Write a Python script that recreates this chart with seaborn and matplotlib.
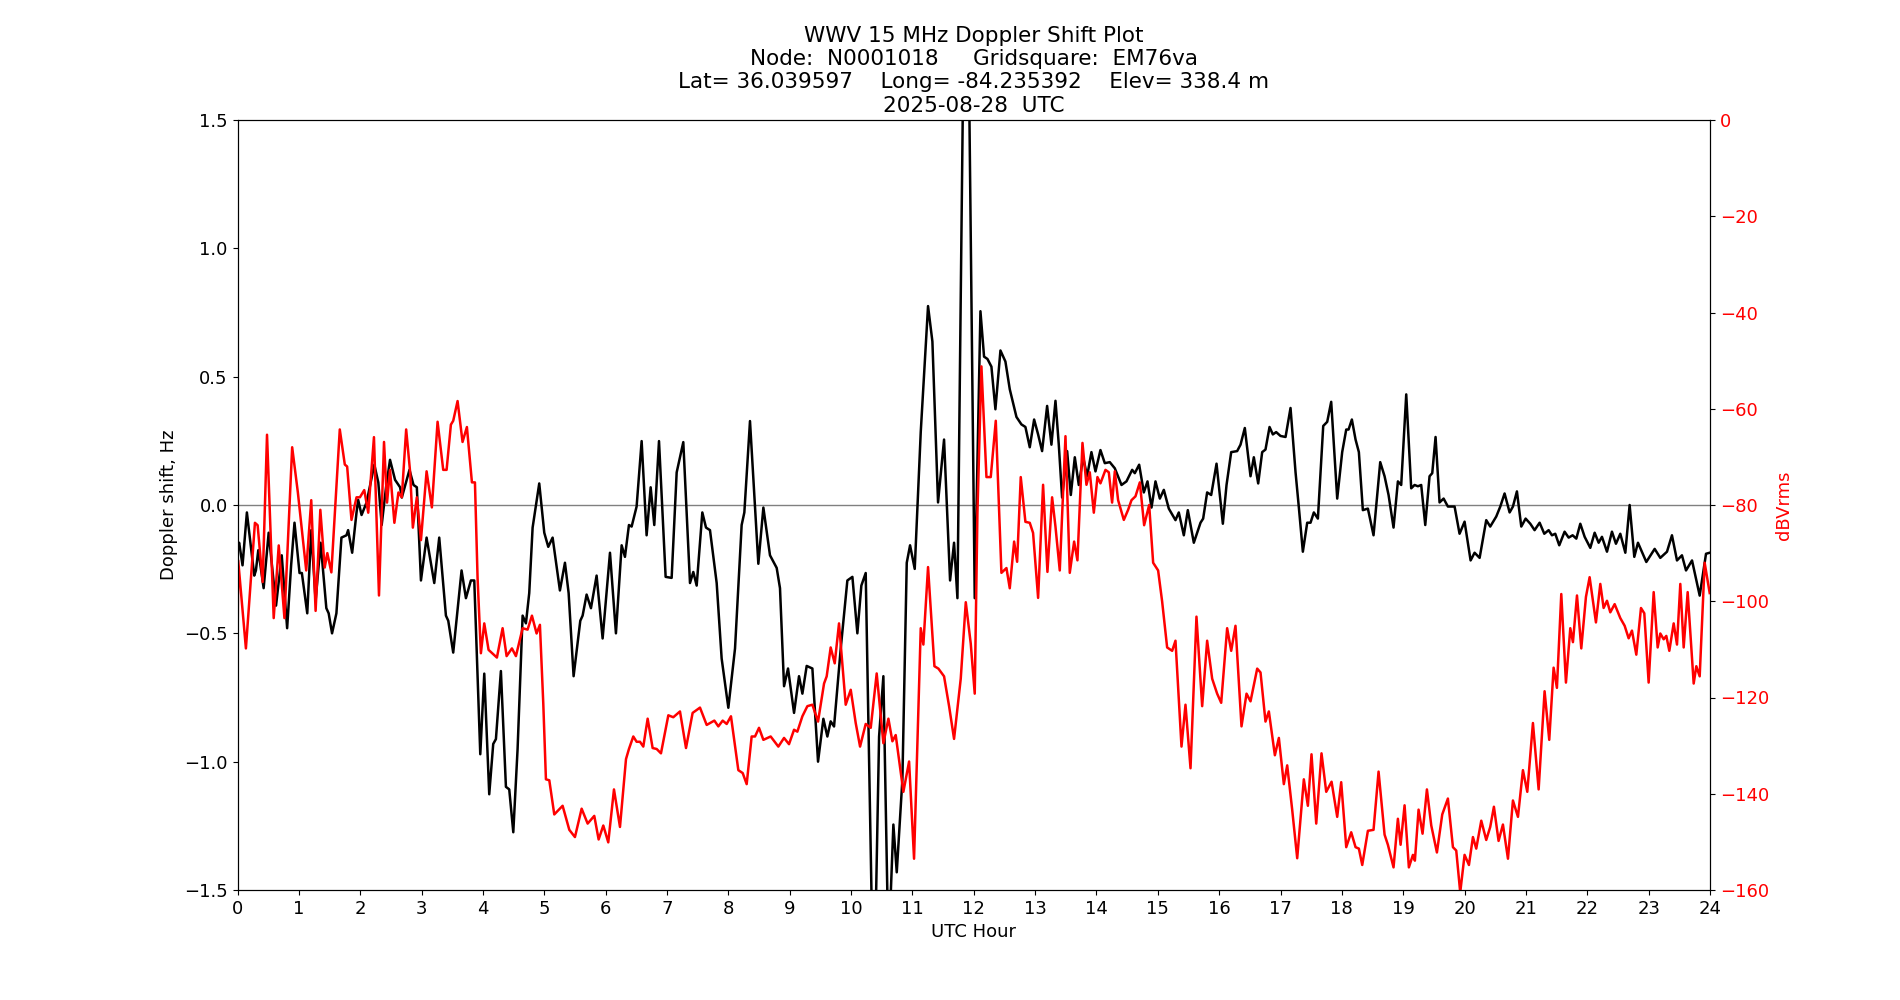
import numpy as np
import matplotlib
matplotlib.use("Agg")
import matplotlib.pyplot as plt
import seaborn as sns

# Doppler shift (Hz) vs UTC hour
dop_hours = [0.0, 0.027, 0.082, 0.153, 0.273, 0.30, 0.339, 0.426, 0.508, 0.628, 0.721, 0.809, 0.874, 0.929,
             1.011, 1.049, 1.137, 1.202, 1.273, 1.355, 1.448, 1.486, 1.541, 1.612, 1.694, 1.776, 1.803, 1.869,
             1.940, 1.967, 2.022, 2.104, 2.230, 2.295, 2.350, 2.421, 2.486, 2.568, 2.650, 2.678, 2.803, 2.869,
             2.923, 2.99, 3.082, 3.207, 3.288, 3.397, 3.435, 3.516, 3.652, 3.723, 3.804, 3.859, 3.957, 4.022,
             4.103, 4.168, 4.212, 4.293, 4.375, 4.429, 4.495, 4.565, 4.647, 4.701, 4.755, 4.810, 4.918, 5.0,
             5.065, 5.136, 5.255, 5.337, 5.397, 5.478, 5.587, 5.625, 5.690, 5.761, 5.853, 5.951, 6.071, 6.168,
             6.261, 6.315, 6.380, 6.424, 6.505, 6.587, 6.668, 6.734, 6.793, 6.870, 6.978, 7.076, 7.158, 7.266,
             7.375, 7.429, 7.484, 7.576, 7.636, 7.701, 7.810, 7.891, 8.0, 8.109, 8.217, 8.261, 8.353, 8.489,
             8.571, 8.679, 8.788, 8.842, 8.908, 8.973, 9.071, 9.152, 9.207, 9.277, 9.370, 9.462, 9.549, 9.614,
             9.668, 9.723, 9.832, 9.940, 10.022, 10.103, 10.168, 10.239, 10.37, 10.457, 10.527, 10.61, 10.690,
             10.745, 10.837, 10.908, 10.962, 11.038, 11.136, 11.255, 11.326, 11.418, 11.516, 11.614, 11.679,
             11.734, 11.875, 12.016, 12.109, 12.168, 12.223, 12.288, 12.353, 12.435, 12.516, 12.587, 12.696,
             12.777, 12.842, 12.913, 12.984, 13.049, 13.114, 13.196, 13.266, 13.332, 13.386, 13.440, 13.522,
             13.582, 13.647, 13.712, 13.783, 13.848, 13.918, 13.984, 14.065, 14.136, 14.217, 14.299, 14.408,
             14.489, 14.582, 14.625, 14.696, 14.772, 14.832, 14.897, 14.962, 15.033, 15.098, 15.179, 15.288,
             15.342, 15.424, 15.489, 15.587, 15.696, 15.739, 15.804, 15.870, 15.957, 16.060, 16.120, 16.196,
             16.293, 16.348, 16.418, 16.511, 16.565, 16.636, 16.701, 16.755, 16.821, 16.875, 16.929, 17.0,
             17.082, 17.163, 17.245, 17.299, 17.364, 17.435, 17.489, 17.543, 17.609, 17.696, 17.761, 17.826,
             17.924, 18.005, 18.071, 18.109, 18.163, 18.223, 18.277, 18.342, 18.424, 18.516, 18.625, 18.696,
             18.761, 18.842, 18.913, 18.967, 19.049, 19.130, 19.185, 19.239, 19.293, 19.359, 19.429, 19.473,
             19.527, 19.592, 19.658, 19.728, 19.837, 19.918, 20.0, 20.098, 20.163, 20.245, 20.353, 20.418,
             20.516, 20.582, 20.652, 20.734, 20.788, 20.853, 20.924, 20.995, 21.071, 21.141, 21.223, 21.299,
             21.370, 21.424, 21.478, 21.543, 21.630, 21.696, 21.761, 21.821, 21.886, 21.957, 22.049, 22.120,
             22.185, 22.239, 22.321, 22.402, 22.467, 22.538, 22.620, 22.690, 22.766, 22.826, 22.962, 23.098,
             23.190, 23.299, 23.380, 23.462, 23.543, 23.609, 23.707, 23.832, 23.935, 23.995]
dop_hz = [-0.16, -0.147, -0.235, -0.029, -0.275, -0.255, -0.176, -0.324, -0.108, -0.392, -0.196, -0.480, -0.235, -0.069,
          -0.265, -0.265, -0.422, -0.098, -0.373, -0.147, -0.402, -0.422, -0.50, -0.422, -0.127, -0.118, -0.098, -0.186,
          -0.029, 0.020, -0.039, 0.010, 0.157, 0.088, -0.078, 0.069, 0.176, 0.098, 0.069, 0.029, 0.137, 0.078,
          0.069, -0.294, -0.127, -0.304, -0.127, -0.431, -0.451, -0.575, -0.255, -0.363, -0.294, -0.294, -0.971, -0.657,
          -1.127, -0.931, -0.912, -0.647, -1.098, -1.108, -1.275, -0.951, -0.431, -0.461, -0.343, -0.088, 0.084, -0.108,
          -0.163, -0.127, -0.333, -0.225, -0.343, -0.667, -0.451, -0.431, -0.349, -0.402, -0.275, -0.520, -0.186, -0.50,
          -0.157, -0.202, -0.078, -0.084, -0.006, 0.249, -0.118, 0.069, -0.078, 0.249, -0.280, -0.284, 0.127, 0.245,
          -0.304, -0.261, -0.314, -0.029, -0.088, -0.098, -0.304, -0.598, -0.790, -0.559, -0.078, -0.029, 0.327, -0.229,
          -0.010, -0.196, -0.245, -0.324, -0.706, -0.637, -0.810, -0.667, -0.735, -0.627, -0.637, -1.0, -0.833, -0.902,
          -0.843, -0.863, -0.559, -0.294, -0.280, -0.50, -0.314, -0.265, -2.0, -0.902, -0.667, -1.75, -1.245,
          -1.431, -1.069, -0.225, -0.157, -0.249, 0.284, 0.775, 0.637, 0.010, 0.255, -0.294, -0.147,
          -0.363, 2.7, -0.363, 0.755, 0.578, 0.569, 0.539, 0.373, 0.602, 0.559, 0.451, 0.343,
          0.314, 0.304, 0.225, 0.333, 0.275, 0.210, 0.386, 0.235, 0.406, 0.235, 0.029, 0.210,
          0.039, 0.186, 0.078, 0.186, 0.112, 0.206, 0.131, 0.214, 0.163, 0.167, 0.143, 0.078,
          0.092, 0.137, 0.124, 0.157, 0.049, 0.092, -0.010, 0.092, 0.025, 0.059, -0.014, -0.059,
          -0.029, -0.118, -0.020, -0.147, -0.069, -0.053, 0.049, 0.039, 0.161, -0.073, 0.078, 0.206,
          0.210, 0.235, 0.300, 0.112, 0.186, 0.084, 0.206, 0.216, 0.304, 0.275, 0.284, 0.269,
          0.265, 0.378, 0.127, -0.010, -0.182, -0.069, -0.069, -0.029, -0.053, 0.308, 0.324, 0.402,
          0.025, 0.206, 0.294, 0.294, 0.333, 0.255, 0.206, -0.020, -0.014, -0.118, 0.167, 0.112,
          0.039, -0.088, 0.092, 0.078, 0.431, 0.065, 0.078, 0.073, 0.078, -0.078, 0.112, 0.124,
          0.265, 0.010, 0.025, -0.006, -0.006, -0.112, -0.065, -0.216, -0.186, -0.206, -0.059, -0.084,
          -0.045, -0.006, 0.045, -0.029, -0.006, 0.053, -0.084, -0.053, -0.073, -0.098, -0.069, -0.112,
          -0.098, -0.118, -0.112, -0.157, -0.104, -0.127, -0.118, -0.131, -0.073, -0.124, -0.167, -0.108,
          -0.147, -0.124, -0.182, -0.104, -0.151, -0.112, -0.186, 0.0, -0.202, -0.147, -0.222, -0.171,
          -0.206, -0.182, -0.118, -0.216, -0.196, -0.255, -0.216, -0.353, -0.190, -0.186]

# Received signal level (dBVrms) vs UTC hour
sig_hours = [0.0, 0.011, 0.137, 0.284, 0.328, 0.410, 0.481, 0.590, 0.672, 0.765, 0.891, 0.984, 1.120, 1.202,
             1.273, 1.350, 1.421, 1.464, 1.530, 1.667, 1.749, 1.787, 1.858, 1.940, 1.995, 2.066, 2.131, 2.224,
             2.306, 2.388, 2.437, 2.486, 2.557, 2.623, 2.678, 2.749, 2.814, 2.858, 2.923, 2.99, 3.082, 3.168,
             3.261, 3.353, 3.408, 3.478, 3.516, 3.587, 3.668, 3.739, 3.821, 3.870, 3.913, 3.967, 4.022, 4.092,
             4.228, 4.321, 4.386, 4.473, 4.538, 4.647, 4.728, 4.799, 4.875, 4.929, 4.984, 5.027, 5.082, 5.163,
             5.299, 5.408, 5.5, 5.609, 5.707, 5.815, 5.886, 5.962, 6.043, 6.136, 6.234, 6.332, 6.380, 6.451,
             6.505, 6.560, 6.614, 6.685, 6.766, 6.832, 6.902, 7.022, 7.103, 7.212, 7.310, 7.418, 7.538, 7.647,
             7.772, 7.837, 7.908, 7.973, 8.043, 8.163, 8.234, 8.299, 8.380, 8.435, 8.5, 8.571, 8.690, 8.815,
             8.908, 8.989, 9.071, 9.125, 9.207, 9.288, 9.370, 9.462, 9.560, 9.603, 9.668, 9.734, 9.804, 9.913,
             9.995, 10.076, 10.147, 10.239, 10.321, 10.418, 10.527, 10.609, 10.674, 10.728, 10.853, 10.946,
             11.027, 11.136, 11.179, 11.255, 11.359, 11.424, 11.516, 11.598, 11.679, 11.788, 11.870, 11.951,
             12.016, 12.060, 12.125, 12.207, 12.277, 12.359, 12.451, 12.533, 12.587, 12.658, 12.707, 12.766,
             12.842, 12.913, 12.967, 13.049, 13.130, 13.201, 13.277, 13.332, 13.402, 13.495, 13.565, 13.636,
             13.690, 13.772, 13.837, 13.891, 13.957, 14.016, 14.065, 14.147, 14.201, 14.255, 14.299, 14.353,
             14.446, 14.516, 14.571, 14.636, 14.707, 14.777, 14.859, 14.924, 15.005, 15.07, 15.152, 15.234,
             15.288, 15.386, 15.451, 15.533, 15.630, 15.723, 15.804, 15.886, 15.967, 16.033, 16.130, 16.196,
             16.266, 16.364, 16.446, 16.511, 16.620, 16.674, 16.755, 16.810, 16.908, 16.973, 17.054, 17.109,
             17.190, 17.272, 17.380, 17.446, 17.505, 17.582, 17.668, 17.745, 17.832, 17.924, 17.989, 18.071,
             18.152, 18.223, 18.277, 18.332, 18.424, 18.516, 18.598, 18.696, 18.750, 18.842, 18.913, 18.957,
             19.022, 19.092, 19.158, 19.190, 19.250, 19.315, 19.386, 19.457, 19.549, 19.636, 19.728, 19.810,
             19.864, 19.929, 20.0, 20.071, 20.136, 20.190, 20.272, 20.353, 20.418, 20.478, 20.554, 20.625,
             20.707, 20.788, 20.870, 20.951, 21.022, 21.114, 21.207, 21.304, 21.380, 21.451, 21.505, 21.576,
             21.652, 21.723, 21.766, 21.832, 21.902, 21.978, 22.038, 22.141, 22.212, 22.266, 22.321, 22.375,
             22.446, 22.538, 22.609, 22.674, 22.728, 22.799, 22.875, 22.929, 23.0, 23.082, 23.147, 23.190,
             23.245, 23.288, 23.337, 23.408, 23.462, 23.516, 23.571, 23.636, 23.734, 23.777, 23.832, 23.913,
             23.995]
sig_db = [-112.0, -91.5, -109.8, -83.7, -84.2, -96.0, -65.4, -103.5, -88.4, -103.5, -68.0, -77.4, -93.6, -79.0,
          -102.0, -81.0, -93.0, -90.0, -94.0, -64.3, -71.6, -72.0, -83.1, -78.4, -78.4, -76.9, -81.6, -65.9,
          -98.8, -66.9, -79.5, -72.7, -83.7, -77.4, -78.4, -64.3, -73.2, -84.7, -78.4, -87.3, -73.0, -80.5,
          -62.7, -72.7, -72.7, -63.3, -62.5, -58.4, -66.9, -63.8, -75.3, -75.3, -95.2, -110.8, -104.6, -110.1,
          -111.7, -105.6, -111.4, -109.8, -111.4, -105.6, -105.9, -103.0, -106.7, -104.9, -121.3, -137.0, -137.2, -144.3,
          -142.5, -147.5, -149.0, -143.1, -146.2, -144.6, -149.5, -146.6, -150.1, -139.1, -146.9, -132.8, -130.7, -128.1,
          -129.2, -129.2, -130.2, -124.4, -130.5, -130.7, -131.6, -123.7, -124.1, -122.9, -130.5, -123.2, -122.1, -125.7,
          -124.8, -126.0, -124.8, -125.5, -123.9, -135.1, -135.7, -138.0, -128.1, -128.1, -126.3, -128.8, -128.1, -130.2,
          -128.4, -129.7, -126.7, -127.1, -123.9, -121.8, -121.5, -125.0, -117.1, -115.6, -109.6, -112.9, -104.6, -121.5,
          -118.4, -125.3, -130.2, -125.5, -126.3, -115.0, -129.5, -124.4, -129.1, -127.8, -139.6, -133.3,
          -153.5, -105.6, -109.0, -92.9, -113.5, -114.0, -115.6, -121.8, -128.6, -116.1, -100.2, -108.8,
          -119.2, -81.6, -51.2, -74.2, -74.2, -62.5, -94.1, -93.1, -97.3, -87.6, -91.8, -74.2,
          -83.5, -83.7, -85.8, -99.3, -75.8, -93.9, -78.4, -84.5, -93.6, -65.7, -94.1, -87.6,
          -91.5, -67.1, -75.8, -73.2, -81.6, -74.2, -75.5, -72.7, -73.2, -79.5, -73.0, -79.0,
          -83.1, -81.0, -79.0, -78.2, -75.3, -84.2, -80.0, -92.0, -93.6, -100.0, -109.6, -110.3,
          -108.2, -130.2, -121.5, -134.7, -103.2, -121.8, -108.2, -116.1, -119.2, -121.1, -105.6, -110.3,
          -105.1, -126.0, -119.2, -120.8, -114.0, -114.8, -125.0, -122.9, -132.0, -128.4, -138.0, -134.1,
          -143.3, -153.4, -137.0, -142.5, -131.8, -146.2, -131.6, -139.6, -137.5, -144.8, -137.6, -151.1,
          -148.0, -151.1, -151.4, -154.8, -147.7, -147.5, -135.4, -148.5, -150.6, -155.3, -145.2, -150.6,
          -142.4, -155.3, -152.7, -153.9, -143.3, -148.3, -139.1, -146.6, -152.2, -144.3, -141.0, -151.1,
          -151.8, -160.5, -152.7, -154.8, -149.0, -151.4, -145.6, -149.6, -146.9, -142.7, -149.8, -146.4,
          -153.5, -141.4, -144.8, -135.1, -139.6, -125.3, -139.1, -118.7, -128.8, -113.8, -118.0, -98.5,
          -116.9, -105.6, -108.5, -98.8, -109.8, -99.1, -95.0, -104.4, -96.4, -101.4, -99.9, -102.3,
          -100.6, -103.5, -105.1, -107.7, -106.1, -111.1, -101.4, -102.5, -116.9, -98.1, -109.6, -106.7,
          -107.9, -107.2, -110.3, -104.6, -109.0, -96.4, -109.6, -98.1, -117.1, -113.5, -115.6, -92.0,
          -98.3]

title_lines = ["WWV 15 MHz Doppler Shift Plot",
               "Node:  N0001018     Gridsquare:  EM76va",
               "Lat= 36.039597    Long= -84.235392    Elev= 338.4 m",
               "2025-08-28  UTC"]
x_ticks = list(range(0, 25))
left_ticks = [-1.5, -1.0, -0.5, 0.0, 0.5, 1.0, 1.5]
right_ticks = [0, -20, -40, -60, -80, -100, -120, -140, -160]

plt.rcParams['font.family'] = ['DejaVu Sans']
fig, ax = plt.subplots(figsize=(19, 10), dpi=100)

ax.axhline(0, color='gray', linewidth=1)
sns.lineplot(x=np.array(dop_hours), y=np.array(dop_hz), ax=ax, color='black',
             linewidth=1.8, solid_joinstyle='round')
ax.set_xlim(0, 24)
ax.set_ylim(-1.5, 1.5)
ax.set_xticks(x_ticks)
ax.set_yticks(left_ticks)
ax.set_xlabel("UTC Hour", fontsize=13)
ax.set_ylabel("Doppler shift, Hz", fontsize=13)
ax.tick_params(labelsize=13)
ax.set_title("\n".join(title_lines), fontsize=15.5)

ax2 = ax.twinx()
sns.lineplot(x=np.array(sig_hours), y=np.array(sig_db), ax=ax2, color='red',
             linewidth=1.8, solid_joinstyle='round')
ax2.set_ylim(-160, 0)
ax2.set_yticks(right_ticks)
ax2.set_ylabel("dBVrms", color='red', fontsize=13)
ax2.tick_params(axis='y', labelsize=13, labelcolor='red')
ax2.set_xlim(0, 24)

fig.savefig("out.png", dpi=100)
